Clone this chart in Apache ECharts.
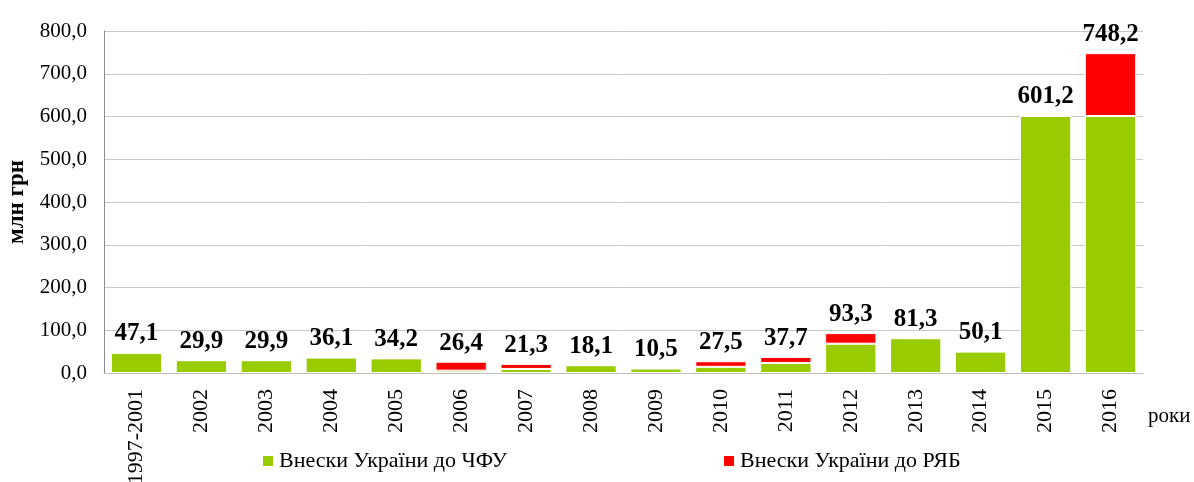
<!DOCTYPE html>
<html>
<head>
<meta charset="utf-8">
<script src="https://cdn.jsdelivr.net/npm/echarts@6/dist/echarts.min.js"></script>
<style>
  html, body { margin: 0; padding: 0; background: #fff; }
  #chart { width: 1194px; height: 482px; }
</style>
</head>
<body>
<div id="chart"></div>
<script>
    // дані
    const years = ['1997-2001', '2002', '2003', '2004', '2005', '2006', '2007', '2008',
        '2009', '2010', '2011', '2012', '2013', '2014', '2015', '2016']
    const chfu = [47.1, 29.9, 29.9, 36.1, 34.2, 5.5, 9.5, 18.1, 10.5, 14.5, 23.5, 68.5, 81.3, 50.1, 601.2, 601.2]
    const ryab = [0, 0, 0, 0, 0, 20.9, 11.8, 0, 0, 13.0, 14.2, 24.8, 0, 0, 0, 147.0]
    const totals = ['47,1', '29,9', '29,9', '36,1', '34,2', '26,4', '21,3', '18,1',
        '10,5', '27,5', '37,7', '93,3', '81,3', '50,1', '601,2', '748,2']
    const yTicks = [0, 100, 200, 300, 400, 500, 600, 700, 800]

    const serif = '"Liberation Serif", "DejaVu Serif", serif'

    const dom = echarts.init(document.getElementById('chart'))
    const option = {
        animation: false,
        grid: {
            left: 104,
            right: 51,
            top: 31,
            bottom: 109,
            containLabel: false,
            outerBoundsMode: 'none'
        },
        legend: {
            bottom: 5,
            left: 256,
            itemGap: 215,
            icon: 'rect',
            itemWidth: 12,
            itemHeight: 12,
            textStyle: {
                fontFamily: serif,
                fontSize: 22,
                color: '#000'
            },
            data: ['Внески України до ЧФУ', 'Внески України до РЯБ']
        },
        graphic: [{
            type: 'text',
            left: 1148,
            top: 406,
            style: {
                text: 'роки',
                font: '21px ' + serif,
                fill: '#000'
            }
        }],
        xAxis: {
            type: 'category',
            data: years,
            axisLine: { lineStyle: { color: '#bfbfbf' } },
            axisTick: { show: false },
            axisLabel: {
                rotate: 90,
                interval: 0,
                margin: 16,
                fontFamily: serif,
                fontSize: 22,
                color: '#000'
            }
        },
        yAxis: {
            type: 'value',
            min: yTicks[0],
            max: yTicks[yTicks.length - 1],
            interval: 100,
            name: 'млн грн',
            nameLocation: 'middle',
            nameGap: 75,
            nameTextStyle: {
                fontFamily: serif,
                fontSize: 23,
                fontWeight: 'bold',
                color: '#000'
            },
            axisLine: { show: true, lineStyle: { color: '#8c8c8c' } },
            axisTick: { show: false },
            splitLine: { lineStyle: { color: '#c8c8c8' } },
            axisLabel: {
                margin: 17,
                fontFamily: serif,
                fontSize: 21,
                color: '#000',
                formatter: function (v) {
                    return v.toFixed(1).replace('.', ',')
                }
            }
        },
        series: [{
            name: 'Внески України до ЧФУ',
            type: 'bar',
            stack: 'all',
            barCategoryGap: '21%',
            data: chfu,
            itemStyle: {
                color: '#99cc00',
                borderColor: '#fff',
                borderWidth: 1
            }
        }, {
            name: 'Внески України до РЯБ',
            type: 'bar',
            stack: 'all',
            data: ryab,
            itemStyle: {
                color: '#ff0000',
                borderColor: '#fff',
                borderWidth: 1
            },
            label: {
                show: true,
                position: 'top',
                distance: 6,
                fontFamily: serif,
                fontSize: 25,
                fontWeight: 'bold',
                color: '#000',
                formatter: function (p) {
                    return totals[p.dataIndex]
                }
            }
        }]
    }
    dom.setOption(option)
    window.addEventListener('resize', dom.resize)
</script>
</body>
</html>
